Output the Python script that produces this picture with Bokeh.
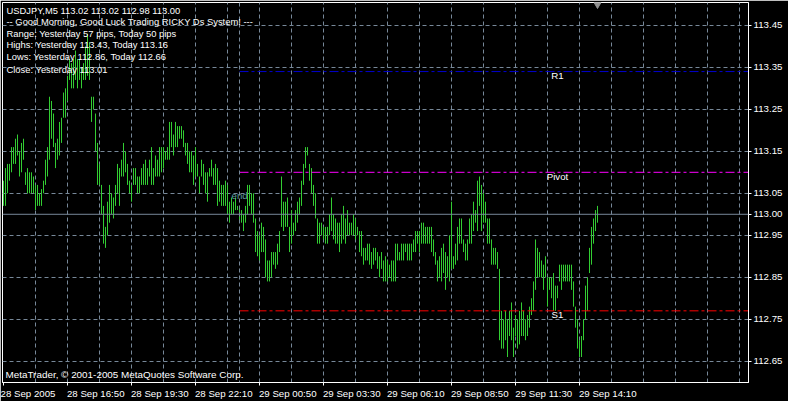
from bokeh.plotting import figure
from bokeh.models import FixedTicker, Span, Label, Range1d, NumeralTickFormatter, ColumnDataSource
from bokeh.embed import file_html
from bokeh.resources import INLINE

# ---------------- data ----------------
highs = [
    113.08, 113.11, 113.12, 113.12, 113.16, 113.16, 113.18, 113.19, 113.15, 113.17,
    113.18, 113.10, 113.11, 113.10, 113.10, 113.09, 113.07, 113.07, 113.05, 113.06,
    113.08, 113.13, 113.16, 113.28, 113.27, 113.24, 113.17, 113.18, 113.22, 113.23,
    113.29, 113.30, 113.33, 113.37, 113.36, 113.37, 113.39, 113.37, 113.37, 113.35,
    113.36, 113.40, 113.43, 113.41, 113.28, 113.28, 113.24, 113.17, 113.12, 113.07,
    113.02, 112.97, 113.03, 113.07, 113.05, 113.04, 113.07, 113.12, 113.11, 113.13,
    113.17, 113.15, 113.12, 113.08, 113.07, 113.11, 113.11, 113.09, 113.09, 113.11,
    113.12, 113.13, 113.11, 113.13, 113.16, 113.11, 113.14, 113.13, 113.16, 113.16,
    113.16, 113.15, 113.16, 113.22, 113.22, 113.19, 113.22, 113.21, 113.21, 113.21,
    113.20, 113.17, 113.17, 113.15, 113.15, 113.14, 113.16, 113.12, 113.09, 113.13,
    113.12, 113.10, 113.10, 113.11, 113.13, 113.11, 113.12, 113.11, 113.08, 113.07,
    113.07, 113.08, 113.07, 113.03, 113.04, 113.03, 113.04, 113.02, 113.02, 113.01,
    113.00, 113.02, 113.07, 113.07, 113.05, 113.05, 112.99, 112.96, 112.95, 112.98,
    112.97, 112.94, 112.89, 112.89, 112.91, 112.91, 112.91, 112.93, 112.96, 113.09,
    113.03, 113.03, 113.04, 112.97, 113.01, 112.98, 113.01, 113.03, 113.04, 113.08,
    113.12, 113.16, 113.16, 113.12, 113.11, 113.07, 113.05, 112.99, 112.98, 112.98,
    112.97, 112.97, 112.97, 113.00, 113.04, 113.00, 112.99, 112.98, 112.98, 113.00,
    113.02, 112.99, 113.01, 112.98, 112.98, 113.00, 112.99, 112.97, 112.96, 112.96,
    112.92, 112.92, 112.93, 112.93, 112.91, 112.92, 112.92, 112.91, 112.90, 112.91,
    112.89, 112.90, 112.89, 112.88, 112.89, 112.89, 112.93, 112.93, 112.91, 112.93,
    112.93, 112.93, 112.93, 112.93, 112.93, 112.94, 112.96, 112.96, 112.96, 112.98,
    112.98, 112.97, 112.97, 112.97, 112.97, 112.94, 112.91, 112.89, 112.90, 112.92,
    112.93, 112.91, 112.90, 112.95, 113.03, 112.90, 112.93, 112.97, 112.99, 112.99,
    112.94, 112.93, 112.94, 112.99, 113.00, 113.03, 113.01, 113.08, 113.09, 113.07,
    113.05, 113.03, 112.99, 112.99, 112.94, 112.92, 112.92, 112.91, 112.87, 112.77,
    112.75, 112.77, 112.75, 112.77, 112.79, 112.73, 112.76, 112.75, 112.77, 112.79,
    112.77, 112.75, 112.76, 112.78, 112.80, 112.84, 112.94, 112.92, 112.91, 112.89,
    112.88, 112.90, 112.85, 112.85, 112.85, 112.86, 112.83, 112.83, 112.88, 112.88,
    112.88, 112.88, 112.88, 112.88, 112.88, 112.84, 112.78, 112.75, 112.70, 112.71,
    112.75, 112.83, 112.85, 112.92, 112.97, 112.99, 113.01, 113.02,
]
lows = [
    113.02, 113.02, 113.05, 113.08, 113.10, 113.12, 113.12, 113.14, 113.09, 113.10,
    113.13, 113.07, 113.05, 113.05, 113.05, 113.05, 113.01, 113.02, 113.02, 113.02,
    113.05, 113.07, 113.09, 113.13, 113.18, 113.16, 113.11, 113.13, 113.14, 113.17,
    113.23, 113.23, 113.27, 113.32, 113.30, 113.30, 113.32, 113.30, 113.32, 113.30,
    113.32, 113.32, 113.33, 113.32, 113.22, 113.25, 113.15, 113.07, 113.07, 113.00,
    112.93, 112.92, 112.95, 112.98, 113.00, 112.99, 113.02, 113.05, 113.02, 113.09,
    113.09, 113.10, 113.07, 113.05, 113.03, 113.07, 113.07, 113.05, 113.05, 113.07,
    113.07, 113.07, 113.07, 113.09, 113.07, 113.07, 113.09, 113.09, 113.09, 113.10,
    113.11, 113.13, 113.13, 113.13, 113.16, 113.14, 113.16, 113.16, 113.18, 113.18,
    113.16, 113.14, 113.12, 113.10, 113.10, 113.07, 113.09, 113.09, 113.05, 113.09,
    113.07, 113.05, 113.03, 113.09, 113.09, 113.07, 113.07, 113.02, 113.03, 113.02,
    113.02, 113.02, 113.00, 112.98, 113.00, 113.00, 113.01, 113.01, 112.98, 112.98,
    112.96, 112.98, 113.00, 113.02, 113.00, 112.98, 112.91, 112.90, 112.89, 112.91,
    112.91, 112.85, 112.84, 112.84, 112.85, 112.88, 112.87, 112.88, 112.91, 112.97,
    112.96, 112.97, 112.97, 112.91, 112.93, 112.95, 112.96, 112.98, 113.00, 113.02,
    113.07, 113.11, 113.14, 113.08, 113.05, 113.02, 112.99, 112.93, 112.93, 112.95,
    112.94, 112.93, 112.93, 112.95, 112.96, 112.94, 112.93, 112.93, 112.91, 112.93,
    112.94, 112.93, 112.95, 112.95, 112.95, 112.95, 112.94, 112.95, 112.91, 112.90,
    112.88, 112.89, 112.89, 112.88, 112.87, 112.88, 112.89, 112.87, 112.85, 112.87,
    112.84, 112.84, 112.84, 112.85, 112.84, 112.84, 112.84, 112.89, 112.89, 112.89,
    112.89, 112.91, 112.89, 112.89, 112.89, 112.91, 112.91, 112.93, 112.91, 112.93,
    112.93, 112.93, 112.93, 112.93, 112.91, 112.90, 112.88, 112.84, 112.85, 112.84,
    112.86, 112.82, 112.85, 112.84, 112.87, 112.87, 112.88, 112.89, 112.93, 112.93,
    112.91, 112.89, 112.89, 112.93, 112.93, 112.96, 112.98, 112.96, 113.02, 112.96,
    112.98, 112.98, 112.93, 112.93, 112.88, 112.88, 112.88, 112.87, 112.70, 112.68,
    112.68, 112.70, 112.66, 112.71, 112.70, 112.66, 112.71, 112.68, 112.69, 112.71,
    112.71, 112.70, 112.71, 112.73, 112.76, 112.77, 112.82, 112.85, 112.85, 112.85,
    112.82, 112.85, 112.78, 112.82, 112.80, 112.77, 112.77, 112.80, 112.84, 112.82,
    112.84, 112.84, 112.84, 112.84, 112.82, 112.78, 112.73, 112.68, 112.66, 112.66,
    112.70, 112.75, 112.77, 112.86, 112.88, 112.93, 112.96, 112.98,
]
last_bar = {"open": 113.02, "high": 113.02, "low": 112.98, "close": 113.00}

time_tick_bars = [0, 32, 64, 96, 128, 160, 192, 224, 256, 288]
time_labels = ["28 Sep 2005", "28 Sep 16:50", "28 Sep 19:30", "28 Sep 22:10",
               "29 Sep 00:50", "29 Sep 03:30", "29 Sep 06:10", "29 Sep 08:50",
               "29 Sep 11:30", "29 Sep 14:10"]
grid_step_bars = 16
day_start_bar = 118
price_ticks = [112.65, 112.75, 112.85, 112.95, 113.05, 113.15, 113.25, 113.35, 113.45]

level_names = ["R1", "Pivot", "S1"]
level_values = [113.34, 113.10, 112.77]
level_colors = ["#0000CD", "#FF00FF", "#FF0000"]

header_lines = [
    "USDJPY,M5  {:.2f} {:.2f} {:.2f} {:.2f}".format(last_bar["open"], last_bar["high"],
                                                  last_bar["low"], last_bar["close"]),
    "-- Good Morning, Good Luck Trading RICKY Ds System! ---",
    "Range: Yesterday 57 pips, Today 50 pips",
    "Highs: Yesterday 113.43, Today 113.16",
    "Lows:  Yesterday 112.86, Today 112.66",
    "Close: Yesterday 113.01",
]
copyright_text = "MetaTrader, \u00a9 2001-2005 MetaQuotes Software Corp."

# ---------------- layout helpers (canvas pixel -> data) ----------------
PX_PER_BAR = 2.0
PX_PER_PRICE = 422.0


def cx2x(cx):
    return (cx - 3.0) / PX_PER_BAR


def cy2y(cy):
    return 113.45 - (cy - 25.0) / PX_PER_PRICE


# approximate advance widths (em) of Liberation Sans, used to left-align the
# (centred) time-axis labels on their ticks by padding them with no-break spaces
EM = {"S": 0.667, "e": 0.556, "p": 0.556, " ": 0.278, ":": 0.278}
FS_PX = 9.7


def left_aligned(label, tick_bar):
    w = sum(EM.get(ch, 0.556) for ch in label)
    tick_px = 3.0 + tick_bar * PX_PER_BAR
    if tick_px < w * FS_PX:
        # the axis keeps its first label inside the canvas, which already
        # puts it at the left edge
        return label
    n = int(round(w / 0.278))
    return "\u00a0" * n + label


W, H = 788, 401
FONT = "Liberation Sans"
FS = "{}px".format(FS_PX)
FS_TXT = "9.4px"
GRID = "#778899"

p = figure(width=W, height=H, output_backend="svg", toolbar_location=None,
           x_range=Range1d(cx2x(2), cx2x(748)), y_range=Range1d(cy2y(384), cy2y(2)),
           y_axis_location="right",
           min_border_left=2, min_border_top=2, min_border_right=40, min_border_bottom=17,
           background_fill_color="black", border_fill_color="black",
           outline_line_color="white", outline_line_width=1)

# grid
p.ygrid.ticker = FixedTicker(ticks=price_ticks)
p.ygrid.grid_line_color = GRID
p.ygrid.grid_line_dash = "4 3"
p.xgrid.grid_line_color = GRID
p.xgrid.grid_line_dash = "4 3"
p.xgrid.ticker = FixedTicker(ticks=list(range(grid_step_bars, 373, grid_step_bars)))

p.add_layout(Span(location=day_start_bar, dimension="height", line_color=GRID,
                  line_dash="4 3", line_width=1))

# current price line
p.add_layout(Span(location=last_bar["close"], dimension="width", line_color=GRID, line_width=1))

# bars
src = ColumnDataSource(dict(x=list(range(len(highs))), high=highs, low=lows))
p.segment(x0="x", y0="low", x1="x", y1="high", source=src, line_color="#32CD32", line_width=1)

# pivot levels
for name, lv, col in zip(level_names, level_values, level_colors):
    p.ray(x=day_start_bar, y=lv, length=0, angle=0, line_color=col, line_width=1,
          line_dash="9 3 3 3")
    p.add_layout(Label(x=cx2x(557), y=lv + 1.5 / PX_PER_PRICE, text=name, text_color="white",
                       text_font=FONT, text_font_size=FS, text_align="center",
                       text_baseline="top"))

# axes
ax = p.xaxis[0]
ax.ticker = FixedTicker(ticks=time_tick_bars)
ax.major_label_overrides = {b: left_aligned(t, b) for b, t in zip(time_tick_bars, time_labels)}
ay = p.yaxis[0]
ay.ticker = FixedTicker(ticks=price_ticks + [last_bar["close"]])
ay.formatter = NumeralTickFormatter(format="0.00")
for a in (ax, ay):
    a.axis_line_color = "white"
    a.major_tick_line_color = "white"
    a.major_tick_out = 3
    a.major_tick_in = 0
    a.minor_tick_out = 0
    a.minor_tick_in = 0
    a.major_label_text_color = "white"
    a.major_label_text_font = FONT
    a.major_label_text_font_size = FS
    a.major_label_standoff = 2

# header texts
header_rows = [10, 20.7, 33, 44.5, 56.7, 69]
for line, row in zip(header_lines, header_rows):
    p.add_layout(Label(x=cx2x(6), y=cy2y(row), text=line, text_color="white",
                       text_font=FONT, text_font_size=FS_TXT, text_align="left",
                       text_baseline="middle"))

p.add_layout(Label(x=cx2x(5), y=cy2y(375.5), text=copyright_text, text_color="white",
                   text_font=FONT, text_font_size="9.9px", text_align="left",
                   text_baseline="middle"))

p.add_layout(Label(x=cx2x(231), y=cy2y(196), text="end", text_color="#5F9EA0",
                   text_font=FONT, text_font_size=FS, text_align="left",
                   text_baseline="middle"))

# shift marker
p.scatter(x=[len(highs) - 1], y=[cy2y(4)], marker="inverted_triangle", size=7,
          fill_color="#909090", line_color="#909090")

open("out.html", "w").write(file_html(p, INLINE))
